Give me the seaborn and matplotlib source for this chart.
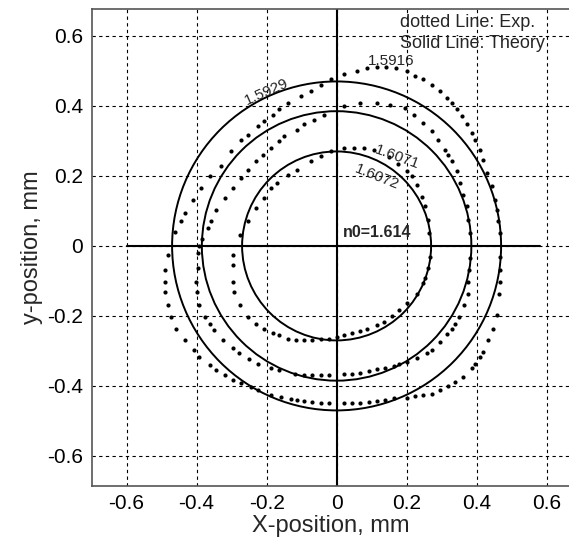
import numpy as np
import pandas as pd
import matplotlib
matplotlib.use('Agg')
import matplotlib.pyplot as plt
from matplotlib.patches import Circle
import seaborn as sns

# ==================== DATA ====================
# theory: circles centred at origin
THEORY_RADII = [0.47, 0.385, 0.27]

EXP_OUTER_X = [0.466, 0.466, 0.461, 0.457, 0.452, 0.443, 0.43, 0.419, 0.409, 0.395, 0.386, 0.372,
               0.357, 0.343, 0.329, 0.315, 0.296, 0.272, 0.248, 0.225, 0.201, 0.17, 0.14, 0.115,
               0.087, 0.059, 0.021, -0.017, -0.045, -0.074, -0.102, -0.14, -0.164, -0.183, -0.207,
               -0.225, -0.254, -0.273, -0.301, -0.33, -0.363, -0.387, -0.41, -0.434, -0.444, -0.463,
               -0.481, -0.491, -0.491, -0.491, -0.481, -0.472, -0.458, -0.434, -0.406, -0.392, -0.363,
               -0.344, -0.32, -0.297, -0.273, -0.245, -0.225, -0.188, -0.159, -0.131, -0.112, -0.093,
               -0.069, -0.045, -0.022, 0.021, 0.045, 0.068, 0.092, 0.116, 0.139, 0.163, 0.201, 0.225,
               0.248, 0.272, 0.296, 0.319, 0.338, 0.362, 0.386, 0.395, 0.409, 0.419, 0.433, 0.447,
               0.457, 0.464, 0.466, 0.466]
EXP_OUTER_Y = [-0.031, 0.036, 0.07, 0.103, 0.132, 0.17, 0.208, 0.246, 0.275, 0.304, 0.323, 0.347,
               0.37, 0.39, 0.409, 0.423, 0.442, 0.461, 0.476, 0.485, 0.5, 0.508, 0.512, 0.512,
               0.509, 0.5, 0.49, 0.476, 0.461, 0.442, 0.428, 0.409, 0.39, 0.375, 0.356,
               0.342, 0.318, 0.304, 0.27, 0.227, 0.199, 0.165, 0.132, 0.094, 0.07, 0.041,
               -0.026, -0.069, -0.102, -0.131, -0.169, -0.203, -0.236, -0.269, -0.298, -0.317, -0.341,
               -0.355, -0.37, -0.384, -0.393, -0.403, -0.413, -0.427, -0.432, -0.437, -0.441, -0.443,
               -0.446, -0.448, -0.449, -0.449, -0.449, -0.448, -0.446, -0.443, -0.439, -0.434, -0.434, -0.43,
               -0.427, -0.422, -0.413, -0.401, -0.389, -0.375, -0.35, -0.336, -0.317, -0.303, -0.269, -0.236,
               -0.198, -0.136, -0.102, -0.069]

EXP_MIDDLE_X = [0.381, 0.381, 0.376, 0.372, 0.362, 0.353, 0.343, 0.329, 0.319, 0.31, 0.291, 0.272,
                0.248, 0.22, 0.196, 0.154, 0.116, 0.068, 0.021, -0.036, -0.065, -0.093, -0.112, -0.15,
                -0.164, -0.188, -0.211, -0.23, -0.254, -0.273, -0.297, -0.32, -0.344, -0.358, -0.368,
                -0.385, -0.392, -0.396, -0.396, -0.401, -0.398, -0.392, -0.377, -0.363, -0.349, -0.325,
                -0.297, -0.278, -0.249, -0.225, -0.188, -0.164, -0.12, -0.093, -0.069, -0.045, -0.022,
                0.021, 0.045, 0.068, 0.092, 0.116, 0.139, 0.163, 0.177, 0.201, 0.229, 0.258, 0.272,
                0.296, 0.315, 0.329, 0.338, 0.351, 0.364, 0.374, 0.376, 0.379]
EXP_MIDDLE_Y = [-0.035, 0.036, 0.075, 0.113, 0.146, 0.18, 0.213, 0.242, 0.261, 0.275, 0.304, 0.327,
                0.352, 0.375, 0.395, 0.404, 0.409, 0.409, 0.399, 0.375, 0.361, 0.347, 0.332, 0.313,
                0.299, 0.28, 0.261, 0.242, 0.218, 0.194, 0.165, 0.137, 0.103, 0.07, 0.05,
                0.02, 0.0, -0.021, -0.064, -0.102, -0.131, -0.169, -0.203, -0.222, -0.241, -0.269,
                -0.293, -0.307, -0.322, -0.336, -0.35, -0.355, -0.365, -0.37, -0.37, -0.37, -0.37,
                -0.367, -0.365, -0.363, -0.358, -0.353, -0.35, -0.344, -0.336, -0.331, -0.319, -0.307, -0.296,
                -0.274, -0.252, -0.236, -0.222, -0.203, -0.169, -0.136, -0.102, -0.069]

EXP_INNER_X = [0.267, 0.265, 0.262, 0.253, 0.244, 0.229, 0.215, 0.201, 0.175, 0.15, 0.106, 0.078,
               0.049, 0.021, -0.017, -0.045, -0.074, -0.112, -0.14, -0.169, -0.188, -0.207, -0.23,
               -0.254, -0.275, -0.297, -0.297, -0.297, -0.292, -0.275, -0.252, -0.23, -0.207, -0.183,
               -0.164, -0.14, -0.117, -0.093, -0.069, -0.045, -0.022, 0.002, 0.021, 0.045, 0.068,
               0.087, 0.116, 0.134, 0.158, 0.177, 0.201, 0.229, 0.248, 0.253, 0.262]
EXP_INNER_Y = [-0.031, 0.036, 0.075, 0.113, 0.141, 0.175, 0.199, 0.213, 0.235, 0.255, 0.275, 0.28,
               0.28, 0.28, 0.27, 0.256, 0.242, 0.218, 0.203, 0.18, 0.165, 0.137, 0.108,
               0.07, 0.03, -0.026, -0.054, -0.102, -0.131, -0.169, -0.203, -0.222, -0.236, -0.25,
               -0.255, -0.265, -0.269, -0.269, -0.269, -0.266, -0.265, -0.26, -0.255, -0.248, -0.243,
               -0.236, -0.226, -0.217, -0.2, -0.183, -0.164, -0.136, -0.107, -0.093, -0.064]

TICKS = [-0.6, -0.4, -0.2, 0, 0.2, 0.4, 0.6]
TICK_LABELS = ['-0.6', '-0.4', '-0.2', '0', '0.2', '0.4', '0.6']

# ==================== PLOT ====================
sns.set_style('white')
plt.rcParams['font.family'] = ['Liberation Sans', 'DejaVu Sans']

df = pd.concat([
    pd.DataFrame({'x': EXP_OUTER_X, 'y': EXP_OUTER_Y, 'curve': 'outer'}),
    pd.DataFrame({'x': EXP_MIDDLE_X, 'y': EXP_MIDDLE_Y, 'curve': 'middle'}),
    pd.DataFrame({'x': EXP_INNER_X, 'y': EXP_INNER_Y, 'curve': 'inner'}),
], ignore_index=True)

fig = plt.figure(figsize=(5.69, 5.39), dpi=100)
ax = fig.add_axes([91.6 / 569, 1 - 486 / 539, 1 - 91.6 / 569, (486 - 9) / 539])

ax.set_xlim(-0.70, 0.664)
ax.set_ylim(-0.686, 0.677)

ax.set_xticks(TICKS)
ax.set_xticklabels(TICK_LABELS)
ax.set_yticks(TICKS)
ax.set_yticklabels(TICK_LABELS)
ax.tick_params(length=0, labelsize=15, pad=6, colors='black')
ax.grid(True, color='black', linestyle=(0, (3, 3)), linewidth=0.8)
ax.set_axisbelow(True)

for side in ['left', 'top', 'bottom']:
    ax.spines[side].set_color('#555555')
    ax.spines[side].set_linewidth(1.2)
ax.spines['right'].set_visible(False)

# axis cross
ax.axvline(0, color='black', linewidth=1.5)
ax.plot([-0.6, 0.58], [0, 0], color='black', linewidth=1.5)

# theory circles
for r in THEORY_RADII:
    ax.add_patch(Circle((0, 0), r, fill=False, edgecolor='black', linewidth=1.4))

# experimental dots
sns.scatterplot(data=df, x='x', y='y', color='black', s=9, linewidth=0,
                legend=False, ax=ax)

ax.set_xlabel('X-position, mm', fontsize=17, labelpad=1)
ax.set_ylabel('y-position, mm', fontsize=17, labelpad=3)

# annotations
ax.text(-0.2, 0.44, '1.5929', fontsize=11, rotation=24, ha='center', va='center',
        rotation_mode='anchor')
ax.text(0.155, 0.529, '1.5916', fontsize=11, ha='center', va='center')
ax.text(0.172, 0.254, '1.6071', fontsize=11, rotation=-20, ha='center', va='center',
        rotation_mode='anchor')
ax.text(0.115, 0.197, '1.6072', fontsize=11, rotation=-22, ha='center', va='center',
        rotation_mode='anchor')
ax.text(0.115, 0.037, 'n0=1.614', fontsize=11.5, fontweight='bold', ha='center', va='center')
ax.text(0.18, 0.637, 'dotted Line: Exp.', fontsize=13, ha='left', va='center')
ax.text(0.18, 0.577, 'Solid Line: Theory', fontsize=13, ha='left', va='center')

plt.savefig('out.png', dpi=100)
plt.close()
